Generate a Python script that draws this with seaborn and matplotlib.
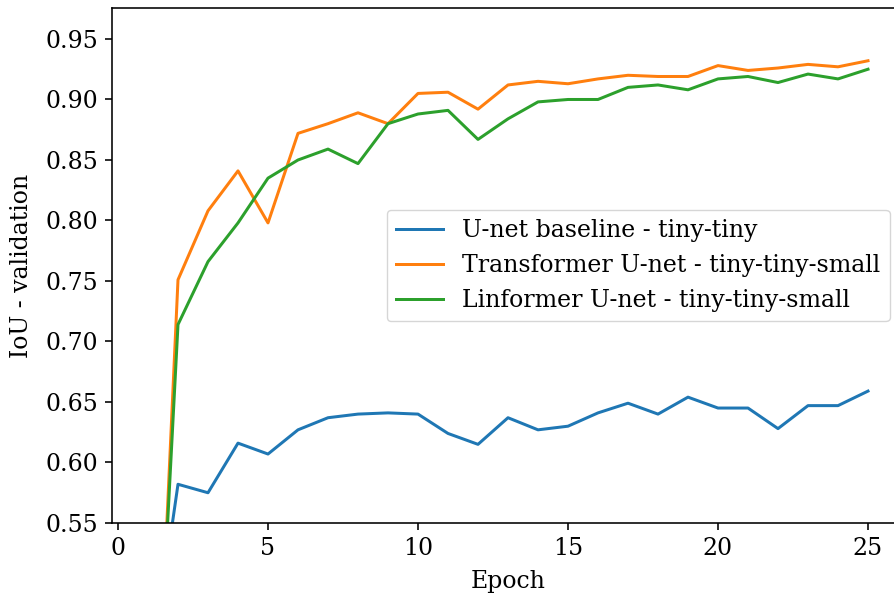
import numpy as np
import pandas as pd
import matplotlib
matplotlib.use("Agg")
import matplotlib.pyplot as plt
import seaborn as sns

epochs = list(range(1, 26))
baseline = [0.41, 0.582, 0.575, 0.616, 0.607, 0.627, 0.637, 0.640, 0.641, 0.640,
            0.624, 0.615, 0.637, 0.627, 0.630, 0.641, 0.649, 0.640, 0.654, 0.645,
            0.645, 0.628, 0.647, 0.647, 0.659]
transformer = [0.21, 0.751, 0.808, 0.841, 0.798, 0.872, 0.880, 0.889, 0.880, 0.905,
               0.906, 0.892, 0.912, 0.915, 0.913, 0.917, 0.920, 0.919, 0.919, 0.928,
               0.924, 0.926, 0.929, 0.927, 0.932]
linformer = [0.24, 0.714, 0.766, 0.798, 0.835, 0.850, 0.859, 0.847, 0.880, 0.888,
             0.891, 0.867, 0.884, 0.898, 0.900, 0.900, 0.910, 0.912, 0.908, 0.917,
             0.919, 0.914, 0.921, 0.917, 0.925]
labels = ["U-net baseline - tiny-tiny",
          "Transformer U-net - tiny-tiny-small",
          "Linformer U-net - tiny-tiny-small"]
colors = ["#1f77b4", "#ff7f0e", "#2ca02c"]

df = pd.concat([
    pd.DataFrame({"Epoch": epochs, "IoU": vals, "Model": lab})
    for vals, lab in zip([baseline, transformer, linformer], labels)
], ignore_index=True)

S = 1.44
plt.rcParams["font.family"] = "DejaVu Serif"
plt.rcParams["font.size"] = 17
plt.rcParams["axes.linewidth"] = 0.8 * S
plt.rcParams["xtick.major.width"] = 0.8 * S
plt.rcParams["ytick.major.width"] = 0.8 * S
plt.rcParams["xtick.major.size"] = 3.5 * S
plt.rcParams["ytick.major.size"] = 3.5 * S
plt.rcParams["xtick.major.pad"] = 3.5 * S
plt.rcParams["ytick.major.pad"] = 3.5 * S

fig = plt.figure(figsize=(8.95, 5.93), dpi=100)
ax = fig.add_axes([112 / 895, 1 - 523 / 593, (904 - 112) / 895, (523 - 8) / 593])
sns.lineplot(data=df, x="Epoch", y="IoU", hue="Model", palette=colors, ax=ax,
             linewidth=1.5 * S, legend=True)
ax.set_xlim(-0.2, 26.2)
ax.set_ylim(0.55, 0.9756)
ax.set_xticks([0, 5, 10, 15, 20, 25])
ax.set_yticks([0.55, 0.60, 0.65, 0.70, 0.75, 0.80, 0.85, 0.90, 0.95])
ax.set_xlabel("Epoch", labelpad=5 * S)
ax.set_ylabel("IoU - validation", labelpad=6 * S)
leg = ax.legend(loc="center right", title=None, borderaxespad=0.6)
fig.savefig("out.png", dpi=100)
